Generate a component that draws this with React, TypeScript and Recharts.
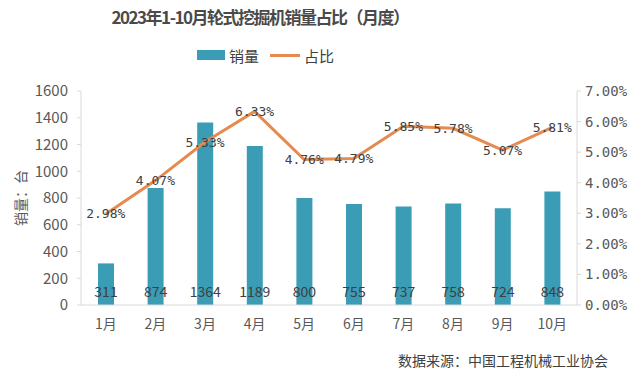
import React from "react";
import {
  ComposedChart,
  Bar,
  Line,
  XAxis,
  YAxis,
  LabelList,
} from "recharts";

const months = ["1月", "2月", "3月", "4月", "5月", "6月", "7月", "8月", "9月", "10月"];
const sales = [311, 874, 1364, 1189, 800, 755, 737, 758, 724, 848];
const shares = [2.98, 4.07, 5.33, 6.33, 4.76, 4.79, 5.85, 5.78, 5.07, 5.81];
const leftTicks = [0, 200, 400, 600, 800, 1000, 1200, 1400, 1600];
const rightTicks = [0, 1, 2, 3, 4, 5, 6, 7];

const data = months.map((m, i) => ({ month: m, sales: sales[i], share: shares[i] }));

const BAR = "#3a9cb5";
const LINE = "#e58a50";
const TXT = "#404040";
const AX = "#595959";

const ShareLabel = (props: any) => {
  const { x, y, value } = props;
  return (
    <text
      x={x}
      y={y}
      textAnchor="middle"
      dominantBaseline="central"
      fill={TXT}
      fontSize={13}
      fontFamily="'DejaVu Sans Mono', 'Liberation Mono', monospace"
    >
      {`${Number(value).toFixed(2)}%`}
    </text>
  );
};

export default function App() {
  return (
    <div
      style={{
        position: "absolute",
        left: 0,
        top: 0,
        width: 635,
        height: 375,
        background: "#fff",
        fontFamily: "'Noto Sans CJK SC', 'Noto Sans', sans-serif",
        overflow: "hidden",
      }}
    >
      <div
        style={{
          position: "absolute",
          left: 6,
          width: 508,
          top: 5,
          textAlign: "center",
          fontSize: 17,
          fontWeight: 600,
          color: "#4a4a4a",
          lineHeight: "24px",
          letterSpacing: -1.5,
        }}
      >
        2023年1-10月轮式挖掘机销量占比（月度）
      </div>
      <div
        style={{
          position: "absolute",
          top: 44,
          left: 197,
          height: 22,
          display: "flex",
          alignItems: "center",
          fontSize: 15,
          color: TXT,
        }}
      >
        <span style={{ display: "inline-block", width: 28, height: 10, background: BAR, marginRight: 4 }} />
        <span>销量</span>
        <span style={{ display: "inline-block", width: 30, height: 3, background: LINE, marginLeft: 11, marginRight: 4 }} />
        <span>占比</span>
      </div>
      <ComposedChart
        width={635}
        height={375}
        data={data}
        margin={{ top: 91, right: 0, bottom: 40, left: 10 }}
        style={{ position: "absolute", left: 0, top: 0 }}
      >
        <XAxis
          dataKey="month"
          axisLine={{ stroke: "#d9d9d9" }}
          tickLine={false}
          tick={{ fill: AX, fontSize: 14 }}
          tickMargin={8}
        />
        <YAxis
          yAxisId="left"
          domain={[0, 1600]}
          ticks={leftTicks}
          width={71}
          axisLine={{ stroke: "#d9d9d9" }}
          tickLine={{ stroke: "#d9d9d9" }}
          tickSize={4}
          tick={{ fill: AX, fontSize: 15 }}
          tickMargin={9}
          label={{
            value: "销量：台",
            angle: -90,
            position: "insideLeft",
            offset: 11,
            style: { fill: AX, fontSize: 14, textAnchor: "middle" },
          }}
        />
        <YAxis
          yAxisId="right"
          orientation="right"
          domain={[0, 7]}
          ticks={rightTicks}
          width={58}
          axisLine={{ stroke: "#d9d9d9" }}
          tickLine={{ stroke: "#d9d9d9" }}
          tickSize={4}
          tickMargin={4}
          tick={{ fill: AX, fontSize: 14, fontFamily: "'DejaVu Sans Mono', 'Liberation Mono', monospace" }}
          tickFormatter={(v: number) => `${v.toFixed(2)}%`}
        />
        <Bar yAxisId="left" dataKey="sales" fill={BAR} barSize={16} isAnimationActive={false}>
          <LabelList dataKey="sales" position="insideBottom" offset={8} fill={TXT} fontSize={14} />
        </Bar>
        <Line
          yAxisId="right"
          dataKey="share"
          stroke={LINE}
          strokeWidth={3}
          dot={false}
          isAnimationActive={false}
        >
          <LabelList dataKey="share" content={<ShareLabel />} />
        </Line>
      </ComposedChart>
      <div
        style={{
          position: "absolute",
          left: 398,
          top: 351,
          fontSize: 14,
          color: TXT,
          lineHeight: "18px",
          whiteSpace: "nowrap",
        }}
      >
        数据来源：中国工程机械工业协会
      </div>
    </div>
  );
}
